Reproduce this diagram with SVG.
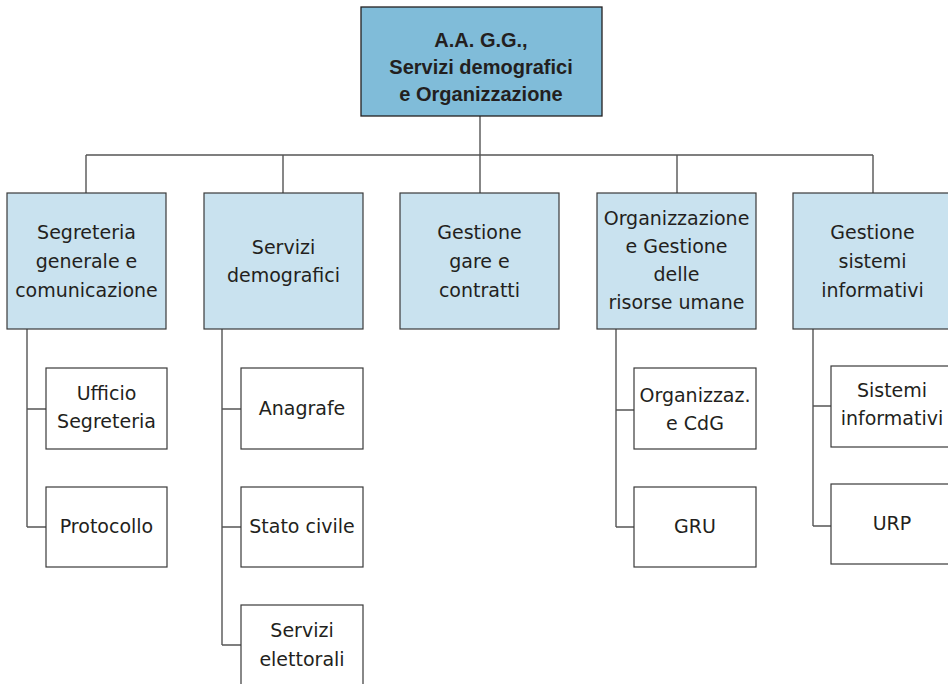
<svg xmlns="http://www.w3.org/2000/svg" width="948" height="684" viewBox="0 0 948 684">
  <style>
    .root { fill: #80bcd9; stroke: #231f20; stroke-width: 1.3; }
    .unit { fill: #c9e2ef; stroke: #3a3a3a; stroke-width: 1.2; }
    .sub { fill: #ffffff; stroke: #3a3a3a; stroke-width: 1.2; }
    .link { fill: none; stroke: #555555; stroke-width: 1.4; }
    text { font-family: "DejaVu Sans", "Liberation Sans", sans-serif; font-size: 19px; fill: #231f20; text-anchor: middle; }
    .bold { font-family: "Liberation Sans", Arial, sans-serif; font-weight: bold; font-size: 20px; }
  </style>

  <rect width="948" height="684" fill="#ffffff"/>

  <!-- connectors -->
  <g id="connectors">
    <path class="link" d="M480,116 V193 M86,155 H873 M86,155 V193 M283,155 V193 M677,155 V193 M873,155 V193"/>
    <path class="link" d="M27,329 V527 M27,409 H46 M27,527 H46"/>
    <path class="link" d="M222,329 V645 M222,409 H241 M222,527 H241 M222,645 H241"/>
    <path class="link" d="M616,329 V527 M616,410 H634 M616,527 H634"/>
    <path class="link" d="M813,329 V526 M813,406 H831 M813,526 H831"/>
  </g>

  <!-- top node -->
  <g id="n-root">
    <rect class="root" x="361" y="7" width="241" height="109"/>
    <text class="bold" x="481" y="47">A.A. G.G.,</text>
    <text class="bold" x="481" y="74">Servizi demografici</text>
    <text class="bold" x="481" y="101">e Organizzazione</text>
  </g>

  <!-- second level -->
  <g id="n-segreteria">
    <rect class="unit" x="7" y="193" width="159" height="136"/>
    <text x="86.5" y="239">Segreteria</text>
    <text x="86.5" y="268">generale e</text>
    <text x="86.5" y="297">comunicazione</text>
  </g>
  <g id="n-demografici">
    <rect class="unit" x="204" y="193" width="159" height="136"/>
    <text x="283.5" y="254">Servizi</text>
    <text x="283.5" y="282">demografici</text>
  </g>
  <g id="n-gare">
    <rect class="unit" x="400" y="193" width="159" height="136"/>
    <text x="479.5" y="239">Gestione</text>
    <text x="479.5" y="268">gare e</text>
    <text x="479.5" y="297">contratti</text>
  </g>
  <g id="n-risorse">
    <rect class="unit" x="597" y="193" width="159" height="136"/>
    <text x="676.5" y="225">Organizzazione</text>
    <text x="676.5" y="253">e Gestione</text>
    <text x="676.5" y="281">delle</text>
    <text x="676.5" y="309">risorse umane</text>
  </g>
  <g id="n-sistemi">
    <rect class="unit" x="793" y="193" width="159" height="136"/>
    <text x="872.5" y="239">Gestione</text>
    <text x="872.5" y="268">sistemi</text>
    <text x="872.5" y="297">informativi</text>
  </g>

  <!-- third level -->
  <g id="n-ufficio">
    <rect class="sub" x="46" y="368" width="121" height="81"/>
    <text x="106.5" y="400">Ufficio</text>
    <text x="106.5" y="428">Segreteria</text>
  </g>
  <g id="n-protocollo">
    <rect class="sub" x="46" y="487" width="121" height="80"/>
    <text x="106.5" y="533">Protocollo</text>
  </g>
  <g id="n-anagrafe">
    <rect class="sub" x="241" y="368" width="122" height="81"/>
    <text x="302" y="415">Anagrafe</text>
  </g>
  <g id="n-stato">
    <rect class="sub" x="241" y="487" width="122" height="80"/>
    <text x="302" y="533">Stato civile</text>
  </g>
  <g id="n-elettorali">
    <rect class="sub" x="241" y="605" width="122" height="90"/>
    <text x="302" y="637">Servizi</text>
    <text x="302" y="666">elettorali</text>
  </g>
  <g id="n-cdg">
    <rect class="sub" x="634" y="368" width="122" height="81"/>
    <text x="695" y="402">Organizzaz.</text>
    <text x="695" y="430">e CdG</text>
  </g>
  <g id="n-gru">
    <rect class="sub" x="634" y="487" width="122" height="80"/>
    <text x="695" y="533">GRU</text>
  </g>
  <g id="n-sistinf">
    <rect class="sub" x="831" y="366" width="122" height="81"/>
    <text x="892" y="397">Sistemi</text>
    <text x="892" y="425">informativi</text>
  </g>
  <g id="n-urp">
    <rect class="sub" x="831" y="484" width="122" height="80"/>
    <text x="892" y="530">URP</text>
  </g>
</svg>
